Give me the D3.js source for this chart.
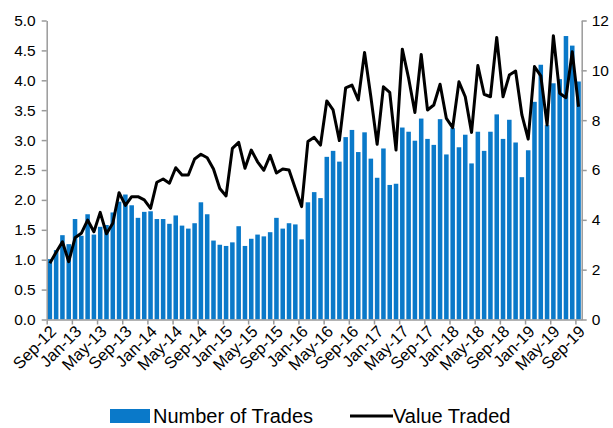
<!DOCTYPE html>
<html><head><meta charset="utf-8">
<script src="https://cdn.jsdelivr.net/npm/d3@7/dist/d3.min.js"></script>
<style>
body{margin:0;background:#fff;}
svg{display:block;font-family:Arial,"Liberation Sans",sans-serif;}
</style></head><body>
<svg id="c" width="613" height="428"></svg>
<script>
const months = ["Sep-12","Oct-12","Nov-12","Dec-12","Jan-13","Feb-13","Mar-13","Apr-13","May-13","Jun-13","Jul-13","Aug-13",
"Sep-13","Oct-13","Nov-13","Dec-13","Jan-14","Feb-14","Mar-14","Apr-14","May-14","Jun-14","Jul-14","Aug-14",
"Sep-14","Oct-14","Nov-14","Dec-14","Jan-15","Feb-15","Mar-15","Apr-15","May-15","Jun-15","Jul-15","Aug-15",
"Sep-15","Oct-15","Nov-15","Dec-15","Jan-16","Feb-16","Mar-16","Apr-16","May-16","Jun-16","Jul-16","Aug-16",
"Sep-16","Oct-16","Nov-16","Dec-16","Jan-17","Feb-17","Mar-17","Apr-17","May-17","Jun-17","Jul-17","Aug-17",
"Sep-17","Oct-17","Nov-17","Dec-17","Jan-18","Feb-18","Mar-18","Apr-18","May-18","Jun-18","Jul-18","Aug-18",
"Sep-18","Oct-18","Nov-18","Dec-18","Jan-19","Feb-19","Mar-19","Apr-19","May-19","Jun-19","Jul-19","Aug-19","Sep-19"];

const numberOfTrades = [1.01,1.16,1.41,1.26,1.68,1.40,1.76,1.42,1.55,1.58,1.79,1.97,
2.09,1.91,1.70,1.80,1.81,1.68,1.68,1.60,1.74,1.57,1.52,1.61,
1.96,1.76,1.32,1.25,1.23,1.29,1.56,1.23,1.35,1.42,1.39,1.46,
1.70,1.52,1.61,1.59,1.34,1.96,2.13,2.03,2.72,2.82,2.64,3.05,
3.17,2.80,3.13,2.69,2.37,2.86,2.25,2.27,3.21,3.14,2.99,3.36,
3.02,2.92,3.35,2.76,3.20,2.88,3.09,2.61,3.14,2.82,3.14,3.43,
3.02,3.34,2.96,2.38,2.83,3.64,4.26,3.25,3.95,4.02,4.74,4.58,3.98];

const valueTraded = [2.26,2.70,3.12,2.32,3.28,3.46,3.99,3.52,4.30,3.44,3.86,5.09,
4.58,4.93,4.93,4.80,4.46,5.51,5.64,5.47,6.09,5.80,5.80,6.44,
6.63,6.49,6.04,5.26,4.96,6.87,7.11,6.07,6.80,6.33,5.99,6.59,
5.88,6.04,6.00,5.26,4.53,7.14,7.31,7.00,8.77,8.41,7.18,9.30,
9.41,8.81,10.72,8.94,7.03,9.34,9.12,6.80,10.85,9.68,8.31,10.64,
8.41,8.61,9.44,8.07,7.70,9.54,8.94,7.51,10.19,9.04,8.94,11.32,
8.94,9.81,9.97,8.21,7.24,10.15,9.78,7.81,11.39,9.08,8.90,10.75,8.54];

const tickLabels = ["Sep-12","Jan-13","May-13","Sep-13","Jan-14","May-14","Sep-14","Jan-15","May-15","Sep-15","Jan-16",
"May-16","Sep-16","Jan-17","May-17","Sep-17","Jan-18","May-18","Sep-18","Jan-19","May-19","Sep-19"];
const leftTicks = [0,0.5,1,1.5,2,2.5,3,3.5,4,4.5,5];
const rightTicks = [0,2,4,6,8,10,12];
const seriesNames = ["Number of Trades","Value Traded"];

const svg = d3.select("#c");
const L = 46.7, R = 581.7, T = 20.5, B = 319.5;
const axisColor = "#9a9a9a";
const barColor = "#0a79c9";

const x = d3.scaleBand().domain(months).range([L, R]).paddingInner(0.28).paddingOuter(0.14);
const xl = d3.scaleLinear().domain([0, months.length]).range([L, R]);
const yL = d3.scaleLinear().domain([0, 5]).range([B, T]);
const yR = d3.scaleLinear().domain([0, 12]).range([B, T]);

// bars
svg.append("g").selectAll("rect").data(numberOfTrades).join("rect")
  .attr("x", (d,i) => x(months[i]))
  .attr("width", x.bandwidth())
  .attr("y", d => yL(d))
  .attr("height", d => yL(0) - yL(d))
  .attr("fill", barColor);

// line
const line = d3.line().x((d,i) => x(months[i]) + x.bandwidth()/2).y(d => yR(d));
svg.append("path").datum(valueTraded).attr("d", line)
  .attr("fill","none").attr("stroke","#000").attr("stroke-width",3).attr("stroke-linejoin","round");

function styleAxis(g, fs){
  g.select(".domain").attr("stroke", axisColor).attr("stroke-width", 1.5);
  g.selectAll(".tick line").attr("stroke", axisColor).attr("stroke-width", 1.5);
  g.selectAll("text").attr("fill","#000").attr("font-size",fs).attr("font-family","Arial, 'Liberation Sans', sans-serif");
}

// left axis
svg.append("g").attr("transform",`translate(${L},0)`)
  .call(d3.axisLeft(yL).tickValues(leftTicks).tickFormat(d3.format(".1f")).tickSize(5).tickSizeOuter(0).tickPadding(6))
  .call(styleAxis, 15.5);

// right axis
svg.append("g").attr("transform",`translate(${R},0)`)
  .call(d3.axisRight(yR).tickValues(rightTicks).tickFormat(d3.format("d")).tickSize(5).tickSizeOuter(0).tickPadding(5))
  .call(styleAxis, 15.5);

// bottom axis
const xa = svg.append("g").attr("transform",`translate(0,${B})`)
  .call(d3.axisBottom(xl).tickValues(tickLabels.map((d,i)=>i*4)).tickFormat((d,i)=>tickLabels[i]).tickSize(5).tickSizeOuter(0))
  .call(styleAxis, 16.5);
xa.selectAll(".tick text")
  .attr("text-anchor","end")
  .attr("transform","translate(6,9) rotate(-45)")
  .attr("dy","0.35em").attr("y",0).attr("x",0);

// legend
const lg = svg.append("g").attr("font-size",20);
lg.append("rect").attr("x",110).attr("y",409).attr("width",40).attr("height",14).attr("fill",barColor);
lg.append("text").attr("x",153).attr("y",423).text(seriesNames[0]);
lg.append("line").attr("x1",350).attr("x2",393).attr("y1",416).attr("y2",416).attr("stroke","#000").attr("stroke-width",3);
lg.append("text").attr("x",393).attr("y",423).text(seriesNames[1]);
</script>
</body></html>
